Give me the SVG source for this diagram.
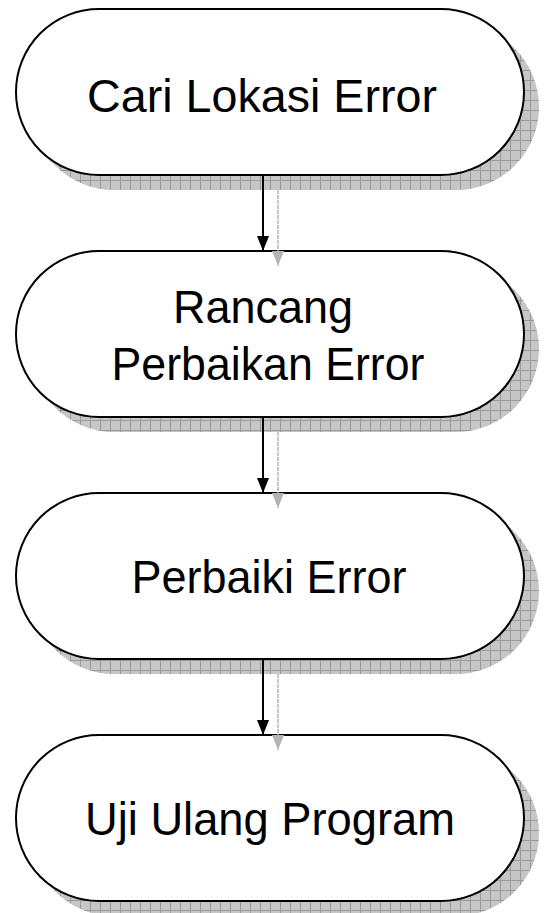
<svg xmlns="http://www.w3.org/2000/svg" width="546" height="913" viewBox="0 0 546 913">
<defs>
<pattern id="grid" width="10" height="10" patternUnits="userSpaceOnUse">
<rect width="10" height="10" fill="#c6c6c6"/>
<path d="M0 0.5H10M0.5 0V10" stroke="#9a9a9a" stroke-width="1" fill="none"/>
</pattern>
<marker id="ah" markerWidth="16" markerHeight="12" refX="15" refY="6" orient="auto" markerUnits="userSpaceOnUse" viewBox="0 0 16 12">
<path d="M0 0L15 6L0 12Z" fill="#000"/>
</marker>
<marker id="ahs" markerWidth="16" markerHeight="12" refX="15" refY="6" orient="auto" markerUnits="userSpaceOnUse" viewBox="0 0 16 12">
<path d="M0 0L15 6L0 12Z" fill="#b4b4b4"/>
</marker>
</defs>
<style>
.shadow{fill:url(#grid);stroke:none}
.node{fill:#fff;stroke:#000;stroke-width:2}
.label{font-family:"Liberation Sans",Arial,sans-serif;font-size:47px;fill:#000;text-anchor:middle}
.conn{stroke:#000;stroke-width:2;fill:none}
.conns{stroke:#b4b4b4;stroke-width:1.5;fill:none;stroke-dasharray:4 1}
</style>
<g id="shadows">
<rect class="shadow" x="31" y="24" width="508" height="166" rx="83" ry="83"/>
<rect class="shadow" x="31" y="266" width="508" height="166" rx="83" ry="83"/>
<rect class="shadow" x="31" y="508" width="508" height="166" rx="83" ry="83"/>
<rect class="shadow" x="31" y="750" width="508" height="166" rx="83" ry="83"/>
</g>
<g id="node1">
<rect class="node" x="16" y="9" width="508" height="166" rx="83" ry="83"/>
<text class="label" x="262" y="112" textLength="350" lengthAdjust="spacingAndGlyphs">Cari Lokasi Error</text>
</g>
<g id="node2">
<rect class="node" x="16" y="251" width="508" height="166" rx="83" ry="83"/>
<text class="label" x="263" y="323" textLength="180" lengthAdjust="spacingAndGlyphs">Rancang</text>
<text class="label" x="268" y="380" textLength="313" lengthAdjust="spacingAndGlyphs">Perbaikan Error</text>
</g>
<g id="node3">
<rect class="node" x="16" y="493" width="508" height="166" rx="83" ry="83"/>
<text class="label" x="269" y="593" textLength="275" lengthAdjust="spacingAndGlyphs">Perbaiki Error</text>
</g>
<g id="node4">
<rect class="node" x="16" y="735" width="508" height="166" rx="83" ry="83"/>
<text class="label" x="270" y="835" textLength="370" lengthAdjust="spacingAndGlyphs">Uji Ulang Program</text>
</g>
<g id="connectors">
<line class="conns" x1="278" y1="190" x2="278" y2="266" marker-end="url(#ahs)"/>
<line class="conns" x1="278" y1="432" x2="278" y2="508" marker-end="url(#ahs)"/>
<line class="conns" x1="278" y1="674" x2="278" y2="750" marker-end="url(#ahs)"/>
<line class="conn" x1="263" y1="175" x2="263" y2="251" marker-end="url(#ah)"/>
<line class="conn" x1="263" y1="417" x2="263" y2="493" marker-end="url(#ah)"/>
<line class="conn" x1="263" y1="659" x2="263" y2="735" marker-end="url(#ah)"/>
</g>
</svg>
